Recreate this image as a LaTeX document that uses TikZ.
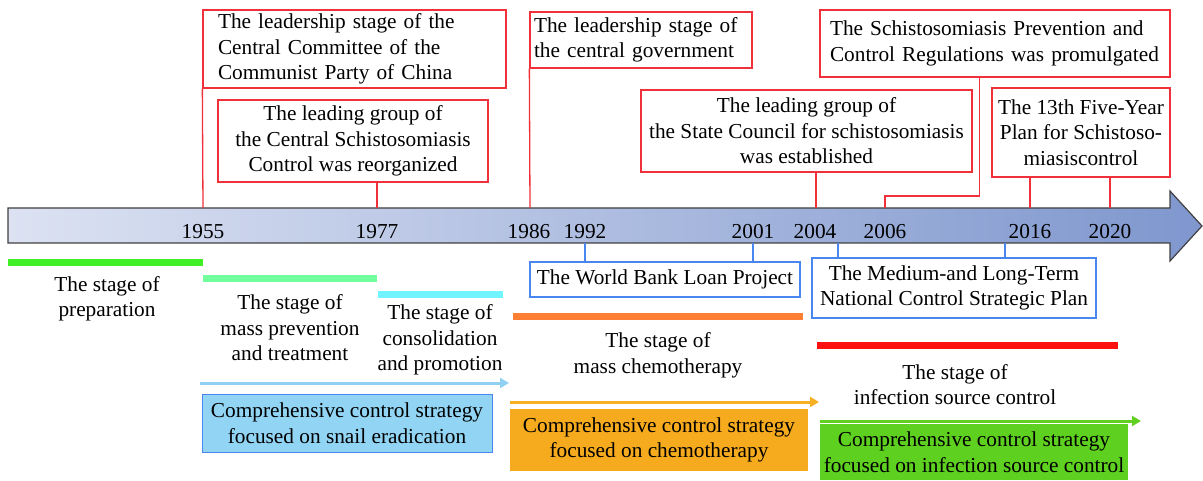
\documentclass[tikz,border=0pt]{standalone}
\usepackage{fontspec}
\setmainfont{Liberation Serif}
\usetikzlibrary{arrows.meta,calc}
\definecolor{redln}{HTML}{F0303A}
\definecolor{blueln}{HTML}{4A86F0}
\definecolor{barL}{HTML}{DCE2F2}
\definecolor{barR}{HTML}{7F97CE}
\definecolor{stA}{HTML}{40F024}
\definecolor{stB}{HTML}{70FF9C}
\definecolor{stC}{HTML}{70F4FF}
\definecolor{stD}{HTML}{FF8034}
\definecolor{stE}{HTML}{FF1010}
\definecolor{arA}{HTML}{90D0F2}
\definecolor{arB}{HTML}{F7B024}
\definecolor{arC}{HTML}{62D020}
\definecolor{fillA}{HTML}{92D4F4}
\definecolor{fillB}{HTML}{F6AA1E}
\definecolor{fillC}{HTML}{5ED020}
\begin{document}
\begin{tikzpicture}[x=1pt,y=-1pt,
  font=\fontsize{21.3}{25.5}\selectfont,
  redbox/.style={draw=redln, line width=1.3pt, inner sep=0pt},
  bluebox/.style={draw=blueln, line width=1.1pt, inner sep=0pt},
  redline/.style={draw=redln, line width=1.3pt},
  blueline/.style={draw=blueln, line width=1.1pt},
  yearlbl/.style={inner sep=0pt},
  stagetxt/.style={align=center, inner sep=0pt},
  stratbox/.style={inner sep=0pt, align=center},
  stratarrow/.style={line width=3pt, -{Triangle[length=9pt,width=10pt]}},
]
\useasboundingbox (0,0) rectangle (1203,481);

% main timeline arrow
\path[draw=black!75, line width=1.2pt, left color=barL, right color=barR]
  (8,208) -- (1170,208) -- (1170,191) -- (1202,226) -- (1170,261) -- (1170,243) -- (8,243) -- cycle;

% tick coordinates (top and bottom of bar)
\coordinate (t1955) at (203,208);
\coordinate (t1977) at (377,208);
\coordinate (t1986) at (530,208);
\coordinate (t2004) at (816,208);
\coordinate (t2006) at (885,208);
\coordinate (t2016) at (1030,208);
\coordinate (t2020) at (1110,208);
\coordinate (b1992) at (585,243);
\coordinate (b2001) at (753,243);
\coordinate (b2005) at (838,243);
\coordinate (b2016) at (1005,243);

% years
\node[yearlbl] (y1955) at (203,232) {1955};
\node[yearlbl] (y1977) at (377,232) {1977};
\node[yearlbl] (y1986) at (529,232) {1986};
\node[yearlbl] (y1992) at (585,232) {1992};
\node[yearlbl] (y2001) at (753,232) {2001};
\node[yearlbl] (y2004) at (815,232) {2004};
\node[yearlbl] (y2006) at (885,232) {2006};
\node[yearlbl] (y2016) at (1030,232) {2016};
\node[yearlbl] (y2020) at (1110,232) {2020};

% red boxes above
\node[redbox, minimum height=78pt, text width=273pt, inner xsep=15pt, align=left] (box1) at (354.5,49)
  {The leadership stage of the\\Central Committee of the\\Communist Party of China};
\node[redbox, minimum width=270pt, minimum height=82pt, align=center] (box2) at (353,141)
  {The leading group of\\the Central Schistosomiasis\\Control was reorganized};
\node[redbox, minimum height=56pt, text width=214pt, inner xsep=4pt, align=left] (box3) at (641,40)
  {The leadership stage of\\the central government};
\node[redbox, minimum width=331pt, minimum height=82pt, align=center] (box4) at (806.5,131)
  {The leading group of\\the State Council for schistosomiasis\\was established};
\node[redbox, minimum height=67pt, text width=330pt, inner xsep=10pt, align=left] (box5) at (995,43.5)
  {The Schistosomiasis Prevention and\\Control Regulations was promulgated};
\node[redbox, minimum width=178pt, minimum height=89pt, align=center] (box6) at (1081,132.5)
  {The 13th Five-Year\\Plan for Schistoso-\\miasiscontrol};

% red connectors
\draw[redline] (box1.south west) -- (t1955);
\draw[redline] (box2.south -| t1977) -- (t1977);
\draw[redline] (box3.south west) -- (t1986);
\draw[redline] (box4.south -| t2004) -- (t2004);
\draw[redline] ([xshift=160pt]box5.south west) |- ([yshift=12pt]t2006) -- (t2006);
\draw[redline] (box6.south -| t2016) -- (t2016);
\draw[redline] (box6.south -| t2020) -- (t2020);

% blue boxes below
\node[bluebox, minimum width=270pt, minimum height=35pt] (box7) at (665,279.5)
  {The World Bank Loan Project};
\node[bluebox, minimum width=284pt, minimum height=60pt, align=center] (box8) at (954,288)
  {The Medium-and Long-Term\\National Control Strategic Plan};
\draw[blueline] (b1992) -- (box7.north -| b1992);
\draw[blueline] (b2001) -- (box7.north -| b2001);
\draw[blueline] (b2005) -- (box8.north -| b2005);
\draw[blueline] (b2016) -- (box8.north -| b2016);

% stage bars
\fill[stA] (8,259) rectangle (203,266);
\fill[stB] (203,275) rectangle (377,282);
\fill[stC] (378,291) rectangle (503,298);
\fill[stD] (513,313) rectangle (803,320);
\fill[stE] (817,342) rectangle (1118,349);

% stage texts
\node[stagetxt] (s1) at (107,299) {The stage of\\preparation};
\node[stagetxt] (s2) at (290,328) {The stage of\\mass prevention\\and treatment};
\node[stagetxt] (s3) at (440,340) {The stage of\\consolidation\\and promotion};
\node[stagetxt] (s4) at (658,355.5) {The stage of\\mass chemotherapy};
\node[stagetxt] (s5) at (955,384.5) {The stage of\\infection source control};

% strategy arrows
\coordinate (aA1) at (200,383); \coordinate (aA2) at (509,383);
\coordinate (aB1) at (510,402); \coordinate (aB2) at (819,402);
\coordinate (aC1) at (820,421); \coordinate (aC2) at (1141,421);
\draw[stratarrow, arA] (aA1) -- (aA2);
\draw[stratarrow, arB] (aB1) -- (aB2);
\draw[stratarrow, arC] (aC1) -- (aC2);

% strategy boxes
\node[stratbox, fill=fillA, draw=blueln, line width=1pt, minimum width=290pt, minimum height=58pt] (st1) at (347,423)
  {Comprehensive control strategy\\focused on snail eradication};
\node[stratbox, fill=fillB, minimum width=298pt, minimum height=62pt] (st2) at (659,440)
  {Comprehensive control strategy\\focused on chemotherapy};
\node[stratbox, fill=fillC, minimum width=308pt, minimum height=56pt] (st3) at (974,452)
  {Comprehensive control strategy\\focused on infection source control};
\end{tikzpicture}
\end{document}
